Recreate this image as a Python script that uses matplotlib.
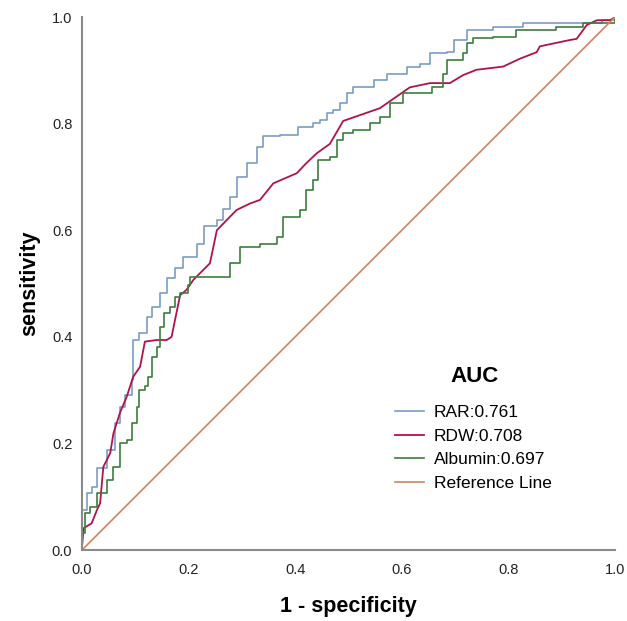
import matplotlib
matplotlib.use('Agg')
from matplotlib import pyplot as plt

plt.rcParams['font.family'] = ['Liberation Sans', 'DejaVu Sans']

# RAR (fpr, tpr)
rar_fpr = [0, 0, 0.009, 0.018, 0.028, 0.046, 0.062, 0.071, 0.081, 0.093, 0.096,
           0.106, 0.121, 0.131, 0.146, 0.159, 0.175, 0.190, 0.215, 0.228, 0.253,
           0.265, 0.278, 0.290, 0.309, 0.328, 0.340, 0.371, 0.406, 0.434, 0.447,
           0.459, 0.471, 0.484, 0.497, 0.509, 0.547, 0.572, 0.609, 0.634, 0.653,
           0.684, 0.697, 0.722, 0.772, 0.828, 0.955, 0.975, 1.0]
rar_tpr = [0, 0.075, 0.107, 0.119, 0.154, 0.188, 0.238, 0.269, 0.291, 0.319, 0.394,
           0.407, 0.438, 0.456, 0.482, 0.510, 0.530, 0.550, 0.575, 0.607, 0.619,
           0.640, 0.663, 0.700, 0.726, 0.757, 0.777, 0.779, 0.794, 0.801, 0.807,
           0.819, 0.826, 0.838, 0.857, 0.869, 0.882, 0.894, 0.907, 0.912, 0.932,
           0.935, 0.957, 0.976, 0.982, 0.988, 0.988, 0.995, 1.0]

# RDW
rdw_fpr = [0, 0, 0.003, 0.018, 0.028, 0.034, 0.040, 0.053, 0.059, 0.071, 0.084,
           0.096, 0.109, 0.118, 0.140, 0.159, 0.168, 0.184, 0.196, 0.209, 0.240,
           0.253, 0.290, 0.315, 0.334, 0.359, 0.403, 0.421, 0.440, 0.465, 0.490,
           0.559, 0.615, 0.653, 0.690, 0.715, 0.740, 0.790, 0.822, 0.853, 0.859,
           0.916, 0.928, 0.947, 0.966, 0.991, 1.0]
rdw_tpr = [0, 0.006, 0.041, 0.050, 0.075, 0.088, 0.156, 0.182, 0.219, 0.257, 0.288,
           0.325, 0.344, 0.391, 0.394, 0.394, 0.400, 0.478, 0.488, 0.507, 0.538,
           0.600, 0.638, 0.650, 0.657, 0.688, 0.707, 0.726, 0.744, 0.762, 0.805,
           0.829, 0.868, 0.876, 0.876, 0.891, 0.901, 0.907, 0.922, 0.934, 0.945,
           0.957, 0.959, 0.985, 0.994, 0.994, 1.0]

# Albumin
alb_fpr = [0, 0, 0.006, 0.015, 0.028, 0.046, 0.059, 0.071, 0.084, 0.093, 0.103,
           0.106, 0.118, 0.124, 0.131, 0.140, 0.146, 0.153, 0.165, 0.174, 0.184,
           0.199, 0.203, 0.265, 0.278, 0.296, 0.334, 0.365, 0.378, 0.409, 0.421,
           0.434, 0.443, 0.465, 0.478, 0.490, 0.509, 0.540, 0.560, 0.578, 0.603,
           0.644, 0.656, 0.678, 0.684, 0.715, 0.722, 0.734, 0.772, 0.815, 0.890,
           0.940, 0.990, 1.0]
alb_tpr = [0, 0.032, 0.069, 0.081, 0.107, 0.131, 0.156, 0.200, 0.207, 0.238, 0.269,
           0.300, 0.307, 0.325, 0.363, 0.381, 0.419, 0.444, 0.456, 0.475, 0.482,
           0.497, 0.513, 0.513, 0.538, 0.569, 0.575, 0.588, 0.625, 0.638, 0.675,
           0.694, 0.732, 0.738, 0.769, 0.782, 0.788, 0.801, 0.813, 0.838, 0.857,
           0.857, 0.869, 0.894, 0.919, 0.932, 0.951, 0.960, 0.963, 0.976, 0.982,
           0.988, 0.988, 1.0]

ref_x = [0, 1]
ref_y = [0, 1]

etiquetas = ['RAR:0.761', 'RDW:0.708', 'Albumin:0.697', 'Reference Line']
colores = ['#7a9cc6', '#b0124a', '#3c7d3c', '#d4835e']

fig = plt.figure(figsize=(6.27, 6.21), dpi=100)
ax = fig.add_axes([0.1308, 0.1143, 0.8501, 0.8583])

ax.plot(rar_fpr, rar_tpr, drawstyle='steps-post', color=colores[0], lw=1.2, label=etiquetas[0])
ax.plot(rdw_fpr, rdw_tpr, color=colores[1], lw=1.3, label=etiquetas[1])
ax.plot(alb_fpr, alb_tpr, drawstyle='steps-post', color=colores[2], lw=1.2, label=etiquetas[2])
ax.plot(ref_x, ref_y, color=colores[3], lw=1.2, label=etiquetas[3])

ax.set_xlim(0, 1)
ax.set_ylim(0, 1)
ax.set_xticks([0, 0.2, 0.4, 0.6, 0.8, 1.0])
ax.set_yticks([0, 0.2, 0.4, 0.6, 0.8, 1.0])
ax.set_xticklabels(['0.0', '0.2', '0.4', '0.6', '0.8', '1.0'])
ax.set_yticklabels(['0.0', '0.2', '0.4', '0.6', '0.8', '1.0'])
ax.tick_params(length=0, labelsize=10.5, colors='#222222')
ax.tick_params(axis='x', pad=9)
ax.tick_params(axis='y', pad=7)

for lado in ['top', 'right']:
    ax.spines[lado].set_visible(False)
for lado in ['left', 'bottom']:
    ax.spines[lado].set_color('#8a8a8a')
    ax.spines[lado].set_linewidth(1.5)

ax.set_xlabel('1 - specificity', fontsize=15.5, fontweight='bold', labelpad=14)
ax.set_ylabel('sensitivity', fontsize=15.5, fontweight='bold', labelpad=8)

ax.text(0.737, 0.325, 'AUC', transform=ax.transAxes, ha='center', va='center',
        fontsize=16, fontweight='bold')
ax.legend(loc='upper left', bbox_to_anchor=(0.587, 0.272), frameon=False,
          fontsize=12.5, handlelength=1.7, handletextpad=0.55, labelspacing=0.48,
          borderpad=0, borderaxespad=0)

plt.savefig('out.png', dpi=100)
